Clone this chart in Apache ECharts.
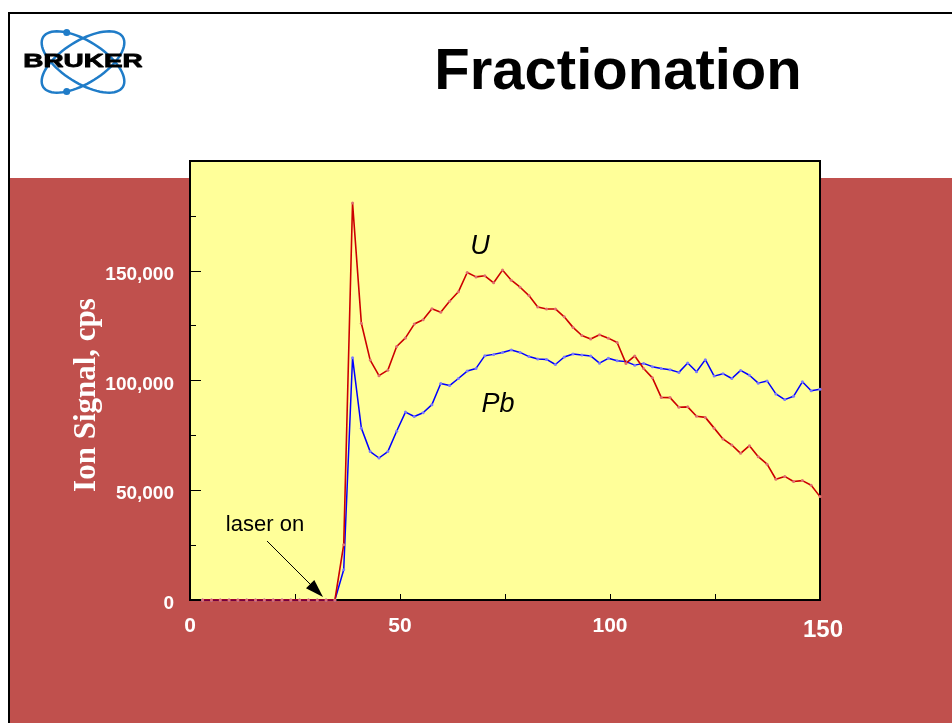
<!DOCTYPE html>
<html><head><meta charset="utf-8">
<script src="https://cdn.jsdelivr.net/npm/echarts@6/dist/echarts.min.js"></script>
<style>
html,body{margin:0;padding:0;background:#fff;}
#wrap{position:relative;width:952px;height:723px;overflow:hidden;background:#fff;}
#frame{position:absolute;left:8px;top:12px;right:0;bottom:0;border-left:2px solid #000;border-top:2px solid #000;background:linear-gradient(to bottom,#fff 0,#fff 164px,#C0504D 164px);}
#chart{position:absolute;left:0;top:0;width:952px;height:723px;}
</style></head><body>
<div id="wrap"><div id="frame"></div><div id="chart"></div></div>
<script>
// acquisition time (s)
const time = [3.0, 5.1, 7.2, 9.3, 11.4, 13.5, 15.6, 17.7, 19.8, 21.9,
  24.0, 26.1, 28.2, 30.3, 32.4, 34.5, 36.6, 38.7, 40.8, 42.9,
  45.0, 47.1, 49.2, 51.3, 53.4, 55.5, 57.6, 59.7, 61.8, 63.9,
  66.0, 68.1, 70.2, 72.3, 74.4, 76.5, 78.6, 80.7, 82.8, 84.9,
  87.0, 89.1, 91.2, 93.3, 95.4, 97.5, 99.6, 101.7, 103.8, 105.9,
  108.0, 110.1, 112.2, 114.3, 116.4, 118.5, 120.6, 122.7, 124.8, 126.9,
  129.0, 131.1, 133.2, 135.3, 137.4, 139.5, 141.6, 143.7, 145.8, 147.9,
  150.0];
// U ion signal (cps)
const uSignal = [0, 0, 0, 0, 0, 0, 0, 0, 0, 0, 0, 0, 0, 0, 0, 0,
  25200, 180900, 126100, 109300, 102200, 104700, 115500, 119400, 125700, 127700,
  132700, 131100, 136100, 140400, 149200, 147200, 147700, 144500, 150300, 145700,
  142500, 138700, 133500, 132600, 132600, 129000, 124200, 120500, 118900, 120800,
  119300, 117300, 107800, 111200, 105500, 101200, 92300, 92200, 87800, 88000,
  83700, 83200, 78300, 73400, 70600, 66800, 70300, 65300, 61900, 55000,
  56300, 54000, 54400, 52300, 47100];
// Pb ion signal (cps)
const pbSignal = [0, 0, 0, 0, 0, 0, 0, 0, 0, 0, 0, 0, 0, 0, 0, 0,
  13800, 110400, 78300, 67600, 64700, 67600, 76900, 85600, 83600, 85300,
  89000, 98600, 97700, 100900, 104300, 105500, 111300, 111900, 112800, 113900,
  112800, 110900, 109800, 109600, 107300, 110700, 112100, 111600, 111200, 107900,
  110100, 109000, 108600, 107000, 107800, 106300, 105500, 104900, 103700, 108000,
  104000, 109500, 102000, 103100, 100900, 104600, 102400, 98800, 99800, 93900,
  91300, 92800, 99400, 95300, 96000];
const xTickLabels = [0, 50, 100, 150];
const yTickLabels = [0, 50000, 100000, 150000];

const fmt = v => String(v).replace(/\B(?=(\d{3})+(?!\d))/g, ',');
const SANS = '"Liberation Sans", Arial, sans-serif';
const SERIF = '"Liberation Serif", "Times New Roman", serif';

// logo orbit outlines
function ellipsePts(cx, cy, a, b, th) {
  const pts = [];
  for (let k = 0; k < 72; k++) {
    const t = k / 72 * Math.PI * 2;
    const u = a * Math.cos(t), v = b * Math.sin(t);
    pts.push([cx + u * Math.cos(th) - v * Math.sin(th), cy + u * Math.sin(th) + v * Math.cos(th)]);
  }
  return pts;
}
function ellPt(cx, cy, a, b, th, t) {
  const u = a * Math.cos(t), v = b * Math.sin(t);
  return [cx + u * Math.cos(th) - v * Math.sin(th), cy + u * Math.sin(th) + v * Math.cos(th)];
}
const LC = [83, 62], LA = 47, LB = 21, LT = Math.PI / 5.6;
const dotTop = ellPt(LC[0], LC[1], LA, LB, LT, -2.25);
const dotBot = ellPt(LC[0], LC[1], LA, LB, -LT, 2.25);

const chart = echarts.init(document.getElementById('chart'), null, {renderer: 'canvas'});
const option = {
  animation: false,
  backgroundColor: 'transparent',
  grid: {left: 190, right: 132, top: 161, bottom: 123, show: true, backgroundColor: '#FFFF99',
         borderColor: '#000', borderWidth: 2, containLabel: false, outerBoundsMode: 'none'},
  xAxis: {
    type: 'value', min: 0, max: 150, interval: 25,
    axisLine: {show: true, onZero: false, lineStyle: {color: '#000', width: 2}},
    axisTick: {show: true, inside: true, length: 6, lineStyle: {color: '#000', width: 1}},
    splitLine: {show: false},
    axisLabel: {
      margin: 16, color: '#fff', fontFamily: SANS, fontWeight: 'bold', fontSize: 21,
      formatter: v => xTickLabels.indexOf(v) < 0 ? '' : (v === 150 ? '{big|150}' : String(v)),
      rich: {big: {fontSize: 24, fontWeight: 'bold', color: '#fff', fontFamily: SANS, padding: [2, 0, 0, 6]}}
    }
  },
  yAxis: {
    type: 'value', min: 0, max: 200000, interval: 50000,
    axisLine: {show: true, onZero: false, lineStyle: {color: '#000', width: 2}},
    axisTick: {show: true, inside: true, length: 11, lineStyle: {color: '#000', width: 1}},
    minorTick: {show: true, splitNumber: 2, length: 6, lineStyle: {color: '#000', width: 1}},
    splitLine: {show: false}, minorSplitLine: {show: false},
    axisLabel: {
      margin: 16, color: '#fff', fontFamily: SANS, fontWeight: 'bold', fontSize: 19,
      padding: [0, 0, 0, 0],
      formatter: v => yTickLabels.indexOf(v) < 0 ? '' : '{v|' + fmt(v) + '}',
      rich: {v: {fontSize: 19, fontWeight: 'bold', color: '#fff', fontFamily: SANS, padding: [8, 0, 0, 0]}}
    }
  },
  series: [
    {type: 'line', name: 'Pb', data: time.map((t, i) => [t, pbSignal[i]]),
     symbol: 'circle', symbolSize: 3, showSymbol: true, showAllSymbol: true,
     lineStyle: {color: '#0000FF', width: 1.5}, itemStyle: {color: '#7a7aff'}, z: 3},
    {type: 'line', name: 'U', data: time.map((t, i) => [t, uSignal[i]]),
     symbol: 'circle', symbolSize: 3, showSymbol: true, showAllSymbol: true,
     lineStyle: {color: '#CC0000', width: 1.6}, itemStyle: {color: '#e07070'}, z: 4}
  ],
  graphic: [
    {type: 'polygon', shape: {points: ellipsePts(LC[0], LC[1], LA, LB, LT)}, style: {fill: null, stroke: '#1F7CC8', lineWidth: 2.5}, z: 10},
    {type: 'polygon', shape: {points: ellipsePts(LC[0], LC[1], LA, LB, -LT)}, style: {fill: null, stroke: '#1F7CC8', lineWidth: 2.5}, z: 10},
    {type: 'circle', shape: {cx: dotTop[0], cy: dotTop[1], r: 3.5}, style: {fill: '#1F7CC8'}, z: 11},
    {type: 'circle', shape: {cx: dotBot[0], cy: dotBot[1], r: 3.5}, style: {fill: '#1F7CC8'}, z: 11},
    {type: 'text', x: 83, y: 62, scaleX: 1.55, z: 12,
     style: {text: 'BRUKER', font: '900 18px ' + SANS, fill: '#000', stroke: '#000', lineWidth: 0.8,
             align: 'center', verticalAlign: 'middle', textAlign: 'center', textVerticalAlign: 'middle'}},
    {type: 'text', x: 618, y: 73, z: 12,
     style: {text: 'Fractionation', font: 'bold 58px ' + SANS, fill: '#000', align: 'center', verticalAlign: 'middle', textAlign: 'center', textVerticalAlign: 'middle'}},
    {type: 'text', x: 87, y: 395, rotation: Math.PI / 2, z: 12,
     style: {text: 'Ion Signal, cps', font: 'bold 31px ' + SERIF, fill: '#fff', align: 'center', verticalAlign: 'middle', textAlign: 'center', textVerticalAlign: 'middle'}},
    {type: 'text', x: 480, y: 246, z: 12,
     style: {text: 'U', font: 'italic 27px ' + SANS, fill: '#000', align: 'center', verticalAlign: 'middle', textAlign: 'center', textVerticalAlign: 'middle'}},
    {type: 'text', x: 498, y: 404, z: 12,
     style: {text: 'Pb', font: 'italic 27px ' + SANS, fill: '#000', align: 'center', verticalAlign: 'middle', textAlign: 'center', textVerticalAlign: 'middle'}},
    {type: 'text', x: 265, y: 525, z: 12,
     style: {text: 'laser on', font: '22px ' + SANS, fill: '#000', align: 'center', verticalAlign: 'middle', textAlign: 'center', textVerticalAlign: 'middle'}},
    {type: 'line', shape: {x1: 267, y1: 541, x2: 312, y2: 586}, style: {stroke: '#000', lineWidth: 1}, z: 12},
    {type: 'polygon', shape: {points: [[323, 597], [306.0, 588.3], [314.3, 580.0]]}, style: {fill: '#000'}, z: 12}
  ]
};
chart.setOption(option);
</script>
</body></html>
